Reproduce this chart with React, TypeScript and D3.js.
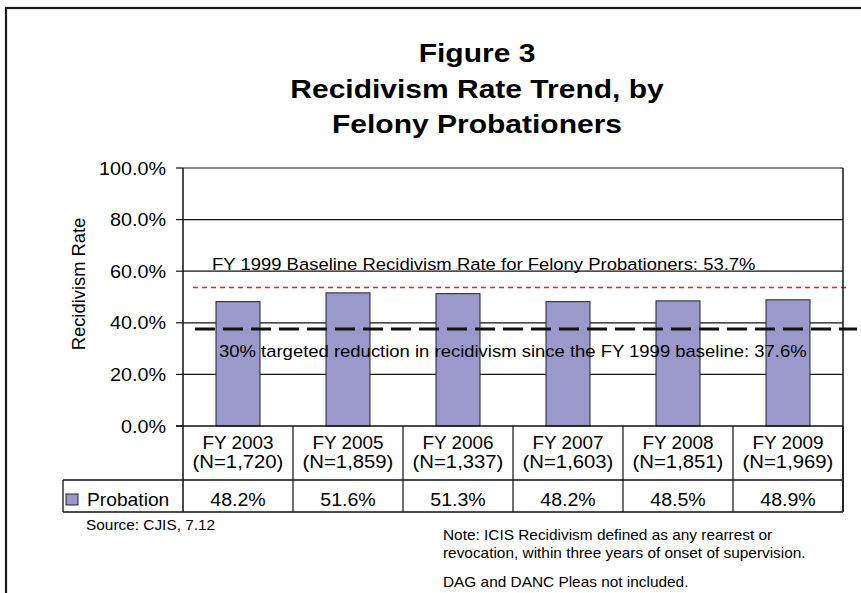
import React from "react";
import * as d3 from "d3";

// Fiscal-year cohorts, cohort sizes and recidivism rates (percent)
const years = ["FY 2003", "FY 2005", "FY 2006", "FY 2007", "FY 2008", "FY 2009"];
const cohortSizes = ["(N=1,720)", "(N=1,859)", "(N=1,337)", "(N=1,603)", "(N=1,851)", "(N=1,969)"];
const probationRates = [48.2, 51.6, 51.3, 48.2, 48.5, 48.9];
const yTicks = [0, 20, 40, 60, 80, 100];
const baselineRate = 53.7;
const targetRate = 37.6;
const titleLines = ["Figure 3", "Recidivism Rate Trend, by", "Felony Probationers"];
const noteLines = [
  "Note: ICIS Recidivism defined as any rearrest or",
  "revocation, within three years of onset of supervision.",
];

const FONT = "'Liberation Sans', Arial, Helvetica, sans-serif";
const BAR_FILL = "#9999CC";

type TProps = {
  x: number;
  y: number;
  size: number;
  anchor?: "start" | "middle" | "end";
  weight?: string | number;
  sx?: number;
  fill?: string;
  children: React.ReactNode;
};

// Text drawn with a slight horizontal widening
function T({ x, y, size, anchor = "start", weight = "normal", sx = 1.12, fill = "#000", children }: TProps) {
  return (
    <g transform={`translate(${x},${y}) scale(${sx},1)`}>
      <text x={0} y={0} fontSize={size} fontFamily={FONT} fontWeight={weight} textAnchor={anchor} fill={fill}>
        {children}
      </text>
    </g>
  );
}

export default function App() {
  const W = 861;
  const H = 593;
  const left = 183;
  const right = 843;
  const top = 168;
  const bottom = 426;
  const catRowBottom = 480;
  const tableBottom = 512;
  const legendLeft = 63;

  const x = d3.scaleBand<string>().domain(years).range([left, right]).paddingInner(0).paddingOuter(0);
  const y = d3.scaleLinear().domain([0, 100]).range([bottom, top]);
  const fmt = (v: number) => d3.format(".1f")(v) + "%";
  const bw = x.bandwidth() * 0.4;

  return (
    <svg width={W} height={H} style={{ position: "absolute", left: 0, top: 0, background: "#fff" }}>
      {/* outer frame */}
      <rect x={6} y={8} width={W + 20} height={H + 20} fill="none" stroke="#1a1a1a" strokeWidth={2.2} />

      {/* title */}
      {titleLines.map((line, i) => (
        <T key={line} x={477} y={62 + i * 35.5} size={25} weight="bold" anchor="middle" sx={1.2}>
          {line}
        </T>
      ))}

      {/* gridlines */}
      {yTicks.filter((t) => t > 0).map((t) => (
        <line key={t} x1={left} x2={right} y1={y(t)} y2={y(t)} stroke="#111" strokeWidth={1.2} />
      ))}

      {/* bars */}
      {years.map((yr, i) => (
        <rect
          key={yr}
          x={(x(yr) as number) + (x.bandwidth() - bw) / 2}
          y={y(probationRates[i])}
          width={bw}
          height={y(0) - y(probationRates[i])}
          fill={BAR_FILL}
          stroke="#222"
          strokeWidth={1}
        />
      ))}

      {/* reference lines */}
      <line x1={193} x2={846} y1={y(baselineRate)} y2={y(baselineRate)} stroke="#ff1a1a" strokeWidth={1.6} strokeDasharray="5,4" />
      <line x1={195} x2={857} y1={y(targetRate)} y2={y(targetRate)} stroke="#111" strokeWidth={3} strokeDasharray="20,8" />

      <T x={212} y={y(60) - 1} size={16.8} sx={1.1}>
        FY 1999 Baseline Recidivism Rate for Felony Probationers: {fmt(baselineRate)}
      </T>
      <T x={219} y={357} size={16.8} sx={1.1}>
        30% targeted reduction in recidivism since the FY 1999 baseline: {fmt(targetRate)}
      </T>

      {/* y axis */}
      <line x1={left} x2={left} y1={top} y2={tableBottom} stroke="#111" strokeWidth={1.5} />
      <line x1={right} x2={right} y1={top} y2={tableBottom} stroke="#111" strokeWidth={1.5} />
      {yTicks.map((t) => (
        <g key={t}>
          <line x1={176} x2={left} y1={y(t)} y2={y(t)} stroke="#111" strokeWidth={1.2} />
          <T x={166} y={y(t) + 6.5} size={18} sx={1.1} anchor="end">
            {fmt(t)}
          </T>
        </g>
      ))}
      <g transform={`translate(85,284) rotate(-90)`}>
        <text x={0} y={0} fontSize={17} fontFamily={FONT} textAnchor="middle" fill="#000" transform="scale(1.08,1.1)">
          Recidivism Rate
        </text>
      </g>

      {/* data table */}
      <line x1={176} x2={right} y1={bottom} y2={bottom} stroke="#111" strokeWidth={1.5} />
      <line x1={legendLeft} x2={right} y1={catRowBottom} y2={catRowBottom} stroke="#111" strokeWidth={1.3} />
      <line x1={legendLeft} x2={right} y1={tableBottom} y2={tableBottom} stroke="#111" strokeWidth={1.5} />
      <line x1={legendLeft} x2={legendLeft} y1={catRowBottom} y2={tableBottom} stroke="#111" strokeWidth={1.3} />
      {years.map((yr) => (
        <line key={yr} x1={(x(yr) as number) + x.bandwidth()} x2={(x(yr) as number) + x.bandwidth()} y1={bottom} y2={tableBottom} stroke="#111" strokeWidth={1.2} />
      ))}
      {years.map((yr, i) => {
        const cx = (x(yr) as number) + x.bandwidth() / 2;
        return (
          <g key={yr}>
            <T x={cx} y={448.5} size={17.5} sx={1.08} anchor="middle">{yr}</T>
            <T x={cx} y={467.5} size={17.5} sx={1.16} anchor="middle">{cohortSizes[i]}</T>
            <T x={cx} y={506} size={17.5} sx={1.12} anchor="middle">{fmt(probationRates[i])}</T>
          </g>
        );
      })}
      <rect x={66} y={494} width={12} height={11} fill={BAR_FILL} stroke="#222" strokeWidth={1} />
      <T x={87} y={506} size={17.5} sx={1.1}>Probation</T>

      {/* footnotes */}
      <T x={86} y={530} size={14} sx={1.1}>Source: CJIS, 7.12</T>
      {noteLines.map((line, i) => (
        <T key={line} x={443} y={540 + i * 18} size={14} sx={1.1}>{line}</T>
      ))}
      <T x={443} y={587} size={14} sx={1.1}>DAG and DANC Pleas not included.</T>
    </svg>
  );
}
